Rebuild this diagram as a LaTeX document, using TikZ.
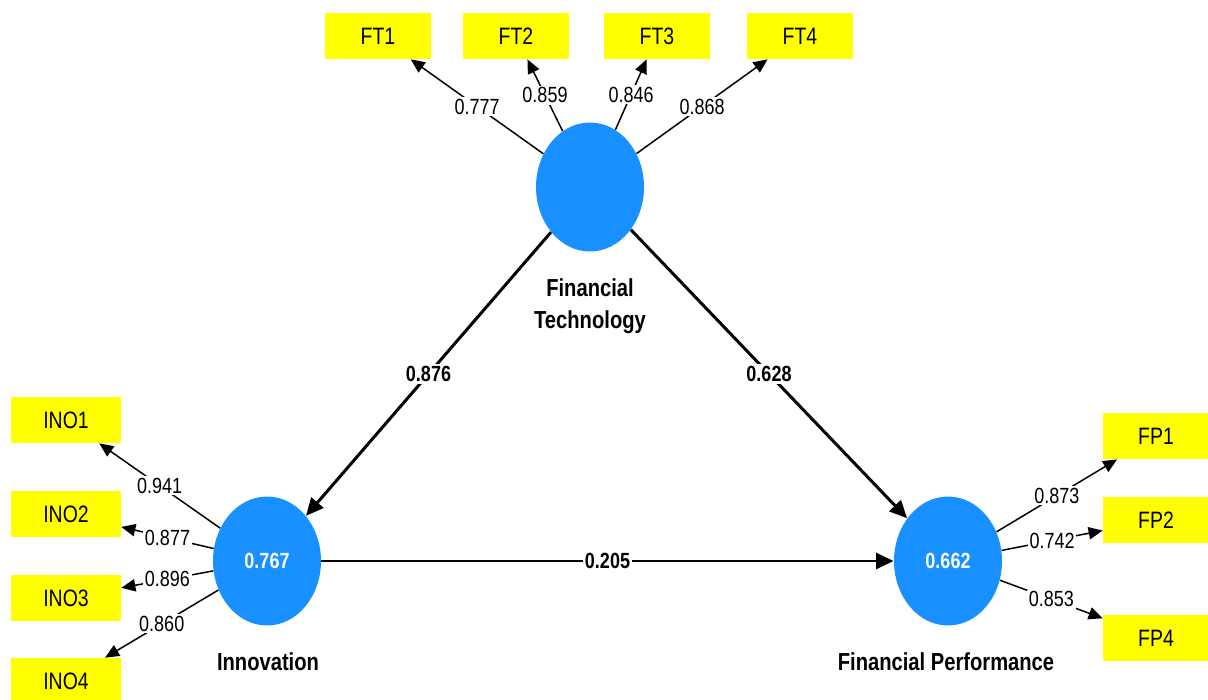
\documentclass[tikz,border=0pt]{standalone}
\usepackage{fontspec}
\setmainfont[FakeStretch=0.82]{Liberation Sans}
\usetikzlibrary{shapes.geometric,arrows.meta}
\definecolor{latentblue}{HTML}{1890FF}
\definecolor{itemyellow}{HTML}{FFFF00}
\begin{document}
\begin{tikzpicture}[x=0.02cm,y=-0.02cm,
  latent/.style={ellipse,fill=latentblue,minimum width=2.16cm,minimum height=2.58cm,inner sep=0pt,
    text=white,font=\bfseries\fontsize{12.5}{14}\selectfont},
  item/.style={rectangle,fill=itemyellow,minimum width=2.12cm,minimum height=0.92cm,inner sep=0pt,
    font=\fontsize{13.5}{16}\selectfont},
  itemwide/.style={item,minimum width=2.2cm},
  loading/.style={line width=0.85pt,-{Triangle[length=8pt,width=7pt]}},
  path coef/.style={line width=1.7pt,-{Triangle[length=10pt,width=9pt]}},
  lval/.style={fill=white,inner sep=1pt,font=\fontsize{12.5}{14}\selectfont},
  pval/.style={fill=white,inner sep=1pt,font=\bfseries\fontsize{12.5}{14}\selectfont},
  lvname/.style={align=center,font=\bfseries\fontsize{14}{18}\selectfont}]
\useasboundingbox (0,0) rectangle (1208,700);

% latent variables
\node[latent] (FT) at (590,187) {};
\node[latent] (INO) at (267,561) {0.767};
\node[latent] (FP) at (948,561) {0.662};

\node[lvname] (FTname) at (590,306) {Financial\\Technology};
\node[lvname] (INOname) at (268,662) {Innovation};
\node[lvname] (FPname) at (946,662) {Financial Performance};

% indicators
\node[item] (FT1) at (378,36) {FT1};
\node[item] (FT2) at (516,36) {FT2};
\node[item] (FT3) at (657,36) {FT3};
\node[item] (FT4) at (800,36) {FT4};

\node[itemwide] (INO1) at (66,420) {INO1};
\node[itemwide] (INO2) at (66,514) {INO2};
\node[itemwide] (INO3) at (66,598) {INO3};
\node[itemwide] (INO4) at (66,681) {INO4};

\node[item] (FP1) at (1156,436) {FP1};
\node[item] (FP2) at (1156,520) {FP2};
\node[item] (FP4) at (1156,638) {FP4};

% outer loadings
\draw[loading] (FT) -- node[lval] {0.777} (FT1);
\draw[loading] (FT) -- node[lval] {0.859} (FT2);
\draw[loading] (FT) -- node[lval] {0.846} (FT3);
\draw[loading] (FT) -- node[lval] {0.868} (FT4);

\draw[loading] (INO) -- node[lval] {0.941} (INO1);
\draw[loading] (INO) -- node[lval] {0.877} (INO2);
\draw[loading] (INO) -- node[lval] {0.896} (INO3);
\draw[loading] (INO) -- node[lval] {0.860} (INO4);

\draw[loading] (FP) -- node[lval] {0.873} (FP1);
\draw[loading] (FP) -- node[lval] {0.742} (FP2);
\draw[loading] (FP) -- node[lval] {0.853} (FP4);

% structural paths
\draw[path coef] (FT) -- node[pval] {0.876} (INO);
\draw[path coef] (FT) -- node[pval] {0.628} (FP);
\draw[path coef] (INO) -- node[pval] {0.205} (FP);
\end{tikzpicture}
\end{document}
